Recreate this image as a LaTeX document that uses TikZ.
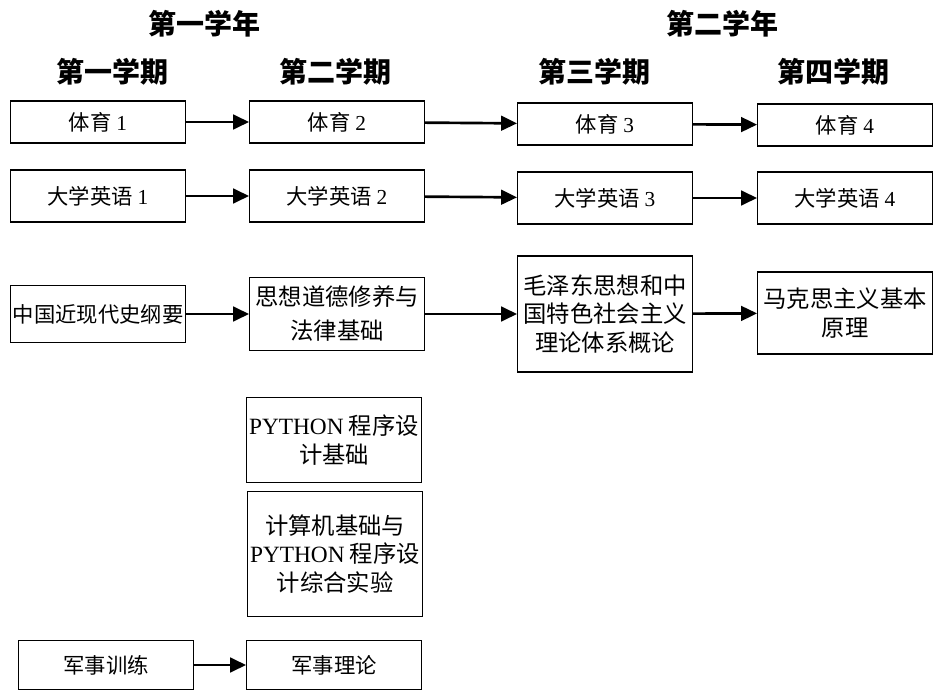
\documentclass[tikz,border=0pt]{standalone}
\usepackage{fontspec}
\setmainfont{Noto Sans CJK SC}
\newfontfamily\tnr{Liberation Serif}
\usetikzlibrary{arrows.meta, positioning}
\tikzset{
  course/.style={
    rectangle, draw=black, line width=0.9pt, minimum width=131pt,
    inner sep=1pt, align=center, font=\fontsize{16}{22}\selectfont
  },
  bigcourse/.style={
    course, font=\fontsize{17.5}{21.5}\selectfont
  },
  heading/.style={
    font=\fontsize{21}{25}\selectfont\bfseries
  },
  arrow/.style={
    -{Triangle[length=12pt,width=11pt]}, line width=2pt
  }
}

\begin{document}
\begin{tikzpicture}[x=0.75pt, y=-0.75pt]
\useasboundingbox (0,0) rectangle (934,691);

% years and terms
\node[heading] (year1) at (204,24) {第一学年};
\node[heading] (year2) at (722,24) {第二学年};
\node[heading] (term1) at (112,72) {第一学期};
\node[heading] (term2) at (335,72) {第二学期};
\node[heading] (term3) at (594,72) {第三学期};
\node[heading] (term4) at (833,72) {第四学期};

% PE
\node[course, minimum height=31.5pt] (ty1) at (98,122) {体育 {\tnr 1}};
\node[course, minimum height=31.5pt] (ty2) at (337,122) {体育 {\tnr 2}};
\node[course, minimum height=31.5pt] (ty3) at (605,124) {体育 {\tnr 3}};
\node[course, minimum height=31.5pt] (ty4) at (845,125) {体育 {\tnr 4}};

\draw[arrow] (ty1) -- (ty2);
\draw[arrow] (ty2) -- (ty3);
\draw[arrow] (ty3) -- (ty4);

% English
\node[course, minimum height=39pt] (yy1) at (98,196) {大学英语 {\tnr 1}};
\node[course, minimum height=39pt] (yy2) at (337,196) {大学英语 {\tnr 2}};
\node[course, minimum height=39pt] (yy3) at (605,198) {大学英语 {\tnr 3}};
\node[course, minimum height=39pt] (yy4) at (845,198) {大学英语 {\tnr 4}};

\draw[arrow] (yy1) -- (yy2);
\draw[arrow] (yy2) -- (yy3);
\draw[arrow] (yy3) -- (yy4);

% politics
\node[course, minimum height=42.75pt] (zg) at (98,314) {中国近现代史纲要};
\node[bigcourse, minimum height=54.75pt] (sx) at (337,314) {思想道德修养与\\[4pt]法律基础};
\node[bigcourse, minimum height=87pt] (mz) at (605,314) {毛泽东思想和中\\国特色社会主义\\理论体系概论};
\node[bigcourse, minimum height=61.5pt] (mk) at (845,313) {马克思主义基本\\原理};

\draw[arrow] (zg) -- (sx);
\draw[arrow] (sx) -- (mz);
\draw[arrow] (mz) -- (mk);

% computing
\node[bigcourse, minimum height=63.75pt] (py) at (334,440) {{\tnr PYTHON} 程序设\\计基础};
\node[bigcourse, minimum height=93.75pt] (jsj) at (335,554) {计算机基础与\\{\tnr PYTHON} 程序设\\计综合实验};

% military
\node[course, minimum height=36.75pt] (jx) at (106,665) {军事训练};
\node[course, minimum height=36.75pt] (jl) at (334,665) {军事理论};

\draw[arrow] (jx) -- (jl);

\end{tikzpicture}
\end{document}
